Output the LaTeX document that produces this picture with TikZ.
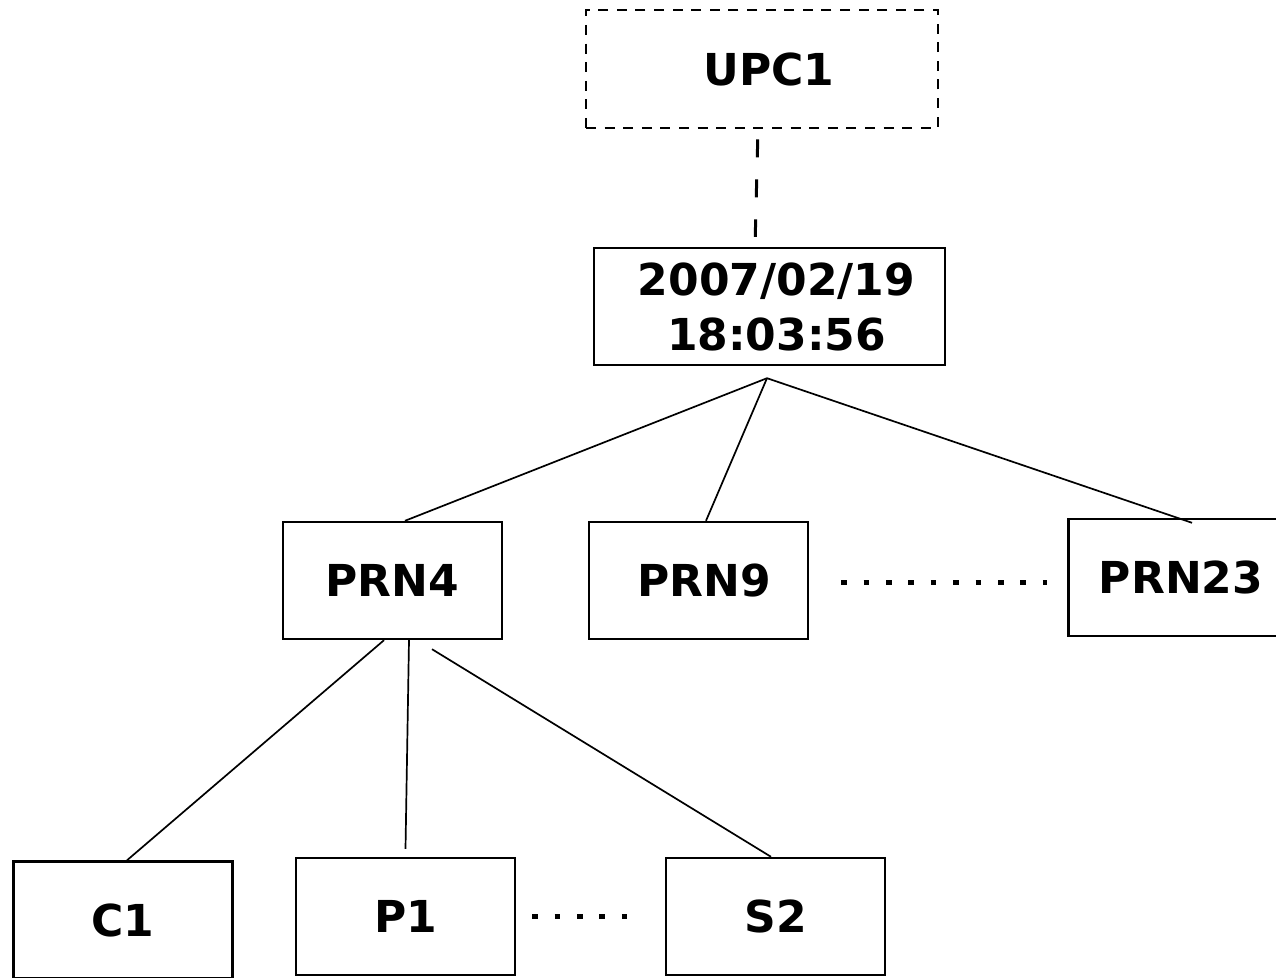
\documentclass[tikz,border=0pt]{standalone}
\usepackage{fontspec}
\setmainfont{DejaVu Sans}
\tikzset{
  box/.style={draw, line width=1.2pt, minimum width=109.5pt, minimum height=58.5pt, inner sep=0pt,
    align=center, font=\bfseries\fontsize{22}{27.5}\selectfont},
  link/.style={line width=0.85pt},
  ellip/.style={line width=2.8pt, dash pattern=on 2.8pt off 8.4pt}
}
\begin{document}
\begin{tikzpicture}[x=0.5pt,y=-0.5pt]
    \useasboundingbox (0,0) rectangle (1276,978);
    \node[box, line width=1.4pt, dash pattern=on 5pt off 4.3pt, minimum width=176pt, minimum height=59pt] (upc) at (762,69) {\hspace*{7pt}UPC1};
    \node[box, minimum width=175.5pt] (stamp) at (769.5,306.5) {\hspace*{7pt}2007/02/19\\\hspace*{7pt}18:03:56};
    \node[box] (prn4) at (392.5,580.5) {PRN4};
    \node[box] (prn9) at (698.5,580.5) {\hspace*{6pt}PRN9};
    \node[box] (prn23) at (1178,577.5) {\hspace*{3pt}PRN23};
    \node[box] (c1) at (123,920) {C1};
    \node[box] (p1) at (405.5,916.5) {P1};
    \node[box] (s2) at (775.5,916.5) {S2};
    \coordinate (fork) at ([shift={(-1.25pt,-6pt)}]stamp.south);
    \coordinate (dotend) at (prn23.west |- prn9.east);
    \draw[line width=1.5pt, dash pattern=on 9pt off 11pt, shorten <=5pt, shorten >=5pt]
        ([xshift=-2pt]upc.south) -- ([xshift=-7.25pt]stamp.north);
    \draw[link] (fork) -- ([xshift=6.25pt]prn4.north);
    \draw[link] (fork) -- ([xshift=3.75pt]prn9.north);
    \draw[link] (fork) -- ([shift={(7pt,-2.5pt)}]prn23.north);
    \draw[link] ([xshift=-4.25pt]prn4.south) -- ([xshift=2pt]c1.north);
    \draw[link] ([xshift=8.25pt]prn4.south) -- ([yshift=4pt]p1.north);
    \draw[link] ([shift={(19.75pt,-4.5pt)}]prn4.south) -- ([xshift=-2.25pt]s2.north);
    \draw[ellip] ([shift={(16pt,-1pt)}]prn9.east) -- ([shift={(-10pt,-1pt)}]dotend);
    \draw[ellip] ([xshift=8pt]p1.east) -- ([xshift=-17pt]s2.west);
\end{tikzpicture}
\end{document}
